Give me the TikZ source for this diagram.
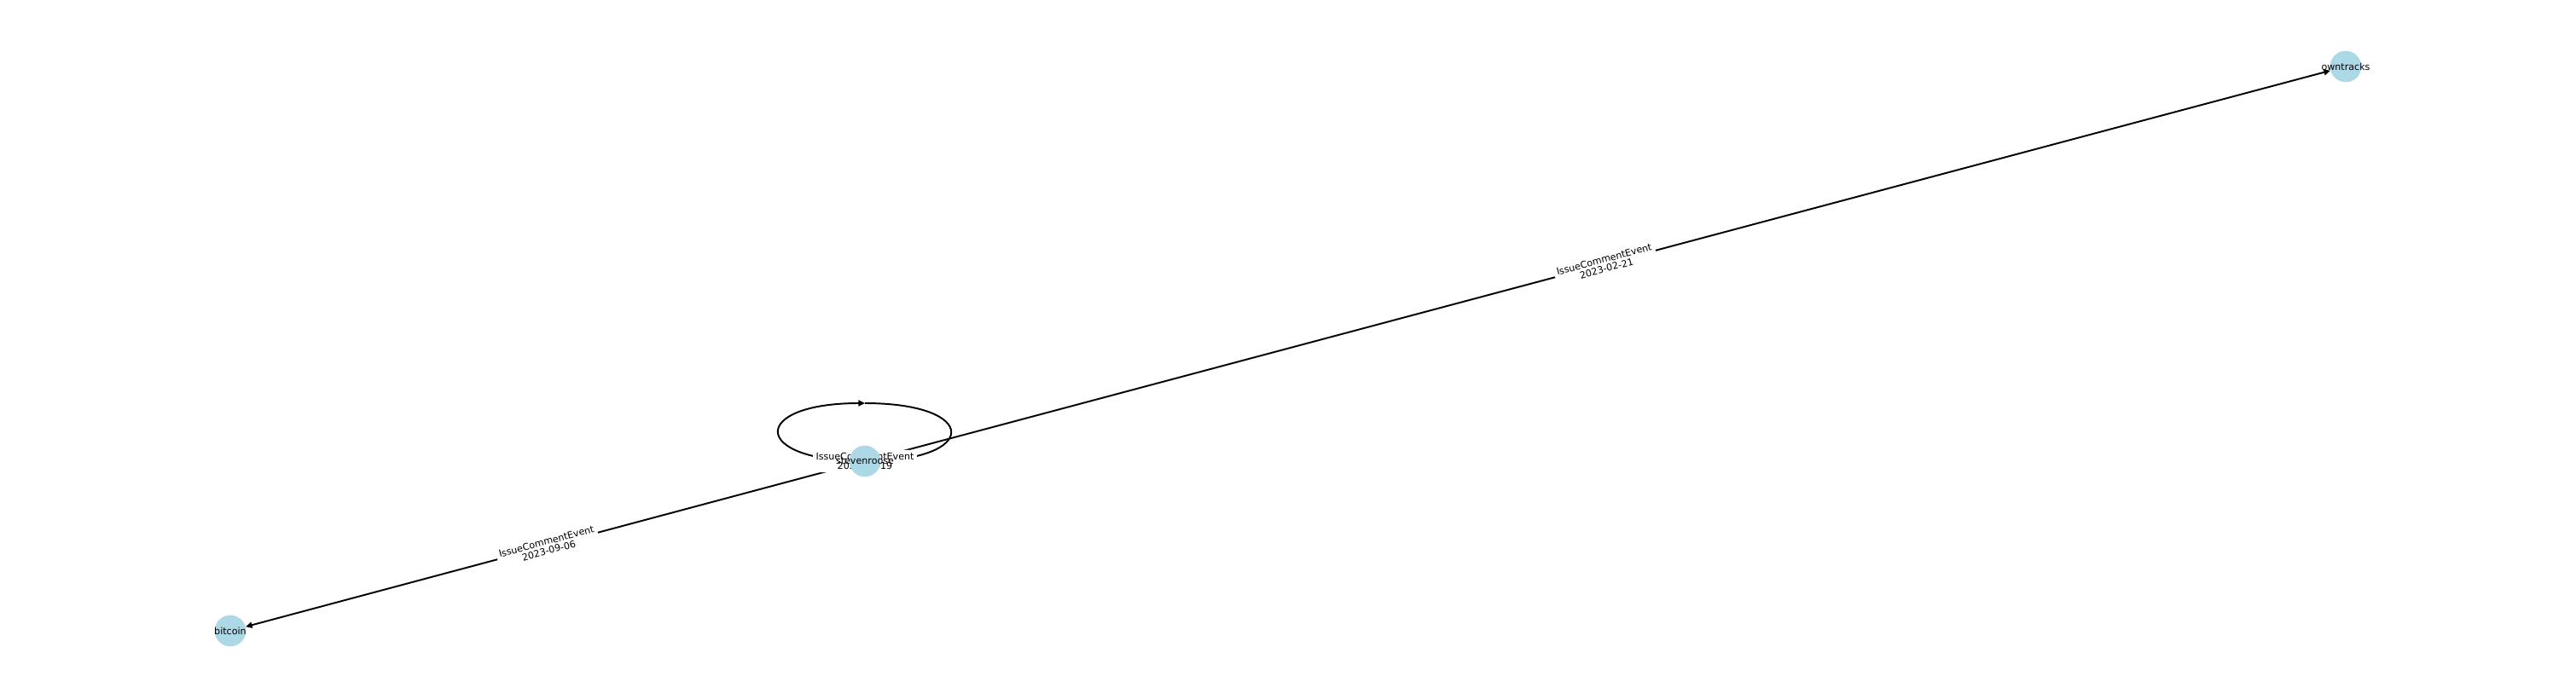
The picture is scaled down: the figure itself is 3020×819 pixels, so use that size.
\documentclass[tikz,border=0pt]{standalone}
\usepackage{fontspec}
\setmainfont{DejaVu Sans}
\usetikzlibrary{arrows.meta,calc}
\pgfdeclarelayer{front}
\pgfsetlayers{main,front}
\definecolor{nodeblue}{HTML}{ADD8E6}
\begin{document}
\begin{tikzpicture}[x=0.72pt,y=-0.72pt,->,>={Triangle[length=5.5pt,width=5pt]},
  main node/.style={circle,fill=nodeblue,inner sep=0pt,minimum size=26.4pt,
    label={[font=\fontsize{8}{8}\selectfont,inner sep=0pt]center:#1}},
  event label/.style={fill=white,rounded corners=2.4pt,inner sep=2.4pt,align=center,font=\fontsize{8}{8}\selectfont},
  every edge/.style={draw,line width=1.4pt}]
  \useasboundingbox (0,0) rectangle (3020,819);
\begin{pgfonlayer}{front}
%1
  \node[main node=stevenroose] (stevenroose) at (1014,541) {};
%2
  \node[main node=owntracks] (owntracks) at (2750,78) {};
%3
  \node[main node=bitcoin] (bitcoin) at (270,740) {};
\end{pgfonlayer}
%loop
  \draw[line width=1.4pt] ($(stevenroose)+(0,-68)$) .. controls ($(stevenroose)+(135,-68)$) and ($(stevenroose)+(135,0)$) .. (stevenroose.center)
     .. controls ($(stevenroose)+(-135,0)$) and ($(stevenroose)+(-135,-68)$) .. ($(stevenroose)+(0,-68)$);
%paths
  \path (stevenroose)
      edge node[event label,sloped] {IssueCommentEvent\\2023-02-21} (owntracks)
      edge node[event label,sloped] {IssueCommentEvent\\2023-09-06} (bitcoin);
  \node[event label] at (stevenroose) {IssueCommentEvent\\2023-09-19};
\end{tikzpicture}
\end{document}
